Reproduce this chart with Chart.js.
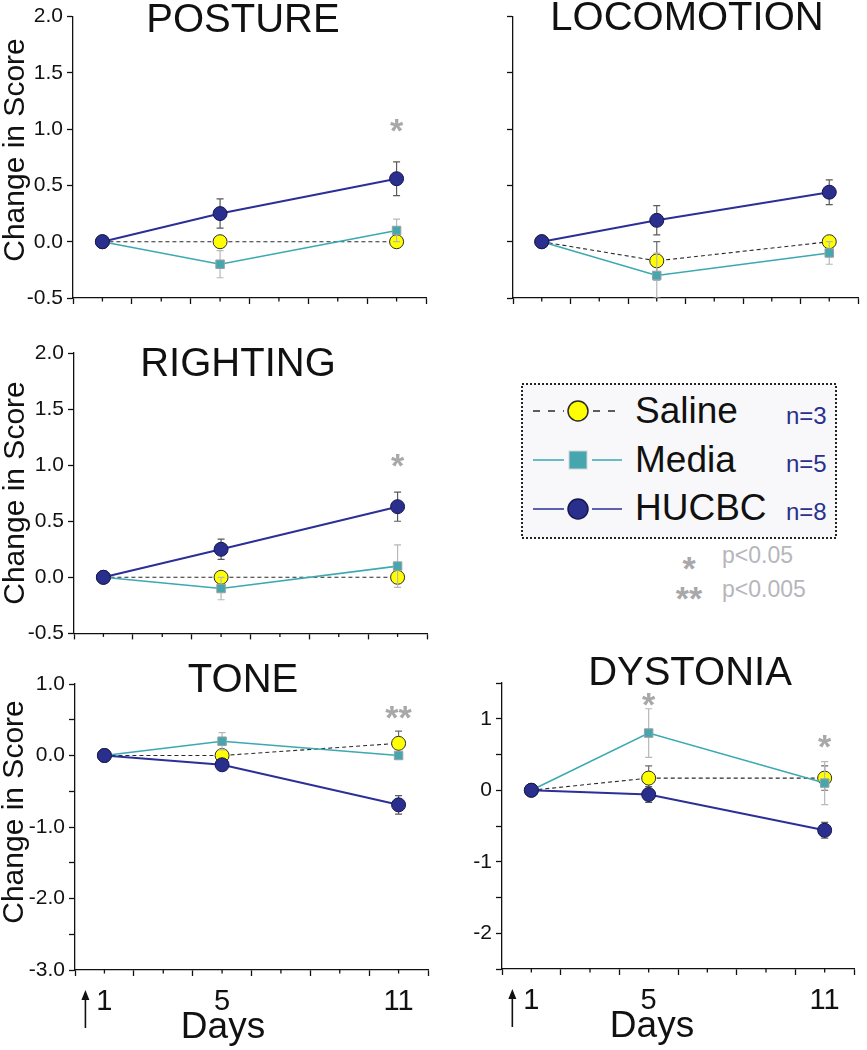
<!DOCTYPE html>
<html>
<head>
<meta charset="utf-8">
<script src="https://cdn.jsdelivr.net/npm/chart.js@4/dist/chart.umd.min.js"></script>
<style>
  html, body { margin: 0; padding: 0; background: #ffffff; }
  body { width: 867px; height: 1050px; position: relative; overflow: hidden;
         font-family: 'Liberation Sans', Arial, Helvetica, sans-serif; }
  canvas { position: absolute; }
  #legend { position: absolute; left: 500px; top: 370px; }
</style>
</head>
<body>
<svg id="legend" width="360" height="250" xmlns="http://www.w3.org/2000/svg"></svg>
<script>
// ---------------- data ----------------
const days = [1, 5, 11];
const xTickValues = [1, 5, 11];
const xTickLabels = ['1', '5', '11'];
const seriesNames = ['Saline', 'Media', 'HUCBC'];
const groupSizes = ['n=3', 'n=5', 'n=8'];
const pValueMarks = ['*', '**'];
const pValueLabels = ['p<0.05', 'p<0.005'];

// POSTURE
const postureSaline = [0, 0, 0];
const postureSalineErr = [0, 0, 0];
const postureMedia = [0, -0.2, 0.1];
const postureMediaErr = [0, 0.12, 0.1];
const postureHUCBC = [0, 0.25, 0.56];
const postureHUCBCErr = [0, 0.13, 0.15];
const postureStarDays = [11];
const postureStarY = [1.06];
const postureStarMarks = ['*'];

// LOCOMOTION
const locoSaline = [0, -0.17, 0];
const locoSalineErr = [0, 0.17, 0];
const locoMedia = [0, -0.3, -0.1];
const locoMediaErr = [0, 0.2, 0.1];
const locoHUCBC = [0, 0.19, 0.44];
const locoHUCBCErr = [0, 0.13, 0.11];
const locoStarDays = [];
const locoStarY = [];
const locoStarMarks = [];

// RIGHTING
const rightSaline = [0, 0, 0];
const rightSalineErr = [0, 0, 0];
const rightMedia = [0, -0.1, 0.1];
const rightMediaErr = [0, 0.1, 0.19];
const rightHUCBC = [0, 0.25, 0.63];
const rightHUCBCErr = [0, 0.09, 0.13];
const rightStarDays = [11];
const rightStarY = [1.07];
const rightStarMarks = ['*'];

// TONE
const toneSaline = [0, 0, 0.17];
const toneSalineErr = [0, 0, 0.17];
const toneMedia = [0, 0.2, 0];
const toneMediaErr = [0, 0.12, 0];
const toneHUCBC = [0, -0.13, -0.69];
const toneHUCBCErr = [0, 0.07, 0.13];
const toneStarDays = [11];
const toneStarY = [0.64];
const toneStarMarks = ['**'];

// DYSTONIA
const dystSaline = [0, 0.17, 0.17];
const dystSalineErr = [0, 0.17, 0.17];
const dystMedia = [0, 0.8, 0.1];
const dystMediaErr = [0, 0.34, 0.3];
const dystHUCBC = [0, -0.06, -0.56];
const dystHUCBCErr = [0, 0.11, 0.11];
const dystStarDays = [5, 11];
const dystStarY = [1.32, 0.73];
const dystStarMarks = ['*', '*'];

// ---------------- layout / styles ----------------
const FONT = "'Liberation Sans', Arial, Helvetica, sans-serif";
Chart.defaults.font.family = FONT;
Chart.defaults.color = '#111';

const fmtFixed1 = v => v.toFixed(1);
const fmtNone = () => '';
const fmtInt1 = v => Number.isInteger(v) ? v.toFixed(1) : '';
const fmtInt = v => Number.isInteger(v) ? String(v) : '';

const panels = [
  { canvas: [0, 0, 440, 318], area: [73, 13, 426, 298], title: 'POSTURE', titlePos: [243, 32],
    yMin: -0.5, yMax: 2, yStep: 0.5, yFmt: fmtFixed1, yTitle: 'Change in Score', yTitlePos: [24, 150],
    bottom: false, daysPos: null,
    s: [postureSaline, postureMedia, postureHUCBC], e: [postureSalineErr, postureMediaErr, postureHUCBCErr],
    starDays: postureStarDays, starY: postureStarY, starMarks: postureStarMarks },
  { canvas: [440, 0, 427, 318], area: [513, 13, 866, 298], title: 'LOCOMOTION', titlePos: [687, 30],
    yMin: -0.5, yMax: 2, yStep: 0.5, yFmt: fmtNone, yTitle: null, yTitlePos: null,
    bottom: false, daysPos: null,
    s: [locoSaline, locoMedia, locoHUCBC], e: [locoSalineErr, locoMediaErr, locoHUCBCErr],
    starDays: locoStarDays, starY: locoStarY, starMarks: locoStarMarks },
  { canvas: [0, 318, 440, 332], area: [74, 353, 427, 640], title: 'RIGHTING', titlePos: [238, 376],
    yMin: -0.5, yMax: 2, yStep: 0.5, yFmt: fmtFixed1, yTitle: 'Change in Score', yTitlePos: [24, 493],
    bottom: false, daysPos: null,
    s: [rightSaline, rightMedia, rightHUCBC], e: [rightSalineErr, rightMediaErr, rightHUCBCErr],
    starDays: rightStarDays, starY: rightStarY, starMarks: rightStarMarks },
  { canvas: [0, 650, 440, 400], area: [75, 684, 428, 970], title: 'TONE', titlePos: [243, 692],
    yMin: -3, yMax: 1, yStep: 0.5, yFmt: fmtInt1, yTitle: 'Change in Score', yTitlePos: [23, 812],
    bottom: true, daysPos: [223, 1038],
    s: [toneSaline, toneMedia, toneHUCBC], e: [toneSalineErr, toneMediaErr, toneHUCBCErr],
    starDays: toneStarDays, starY: toneStarY, starMarks: toneStarMarks },
  { canvas: [440, 650, 427, 400], area: [502, 683, 854, 969], title: 'DYSTONIA', titlePos: [690, 685],
    yMin: -2.5, yMax: 1.5, yStep: 0.5, yFmt: fmtInt, yTitle: null, yTitlePos: null,
    bottom: true, daysPos: [652, 1037],
    s: [dystSaline, dystMedia, dystHUCBC], e: [dystSalineErr, dystMediaErr, dystHUCBCErr],
    starDays: dystStarDays, starY: dystStarY, starMarks: dystStarMarks }
];

const seriesStyles = [
  { order: 3, borderColor: '#2a2a2a', borderWidth: 1.1, borderDash: [4, 3], pointStyle: 'circle', pointRadius: 7,
    pointBackgroundColor: '#ffff00', pointBorderColor: '#2a2a2a', pointBorderWidth: 1, errorColor: '#6a6a6a' },
  { order: 2, borderColor: '#3ba9b2', borderWidth: 1.6, borderDash: [], pointStyle: 'rect', pointRadius: 6,
    pointBackgroundColor: '#46a6ae', pointBorderColor: '#9aa0a4', pointBorderWidth: 1, errorColor: '#b8b8b8' },
  { order: 1, borderColor: '#2b2f97', borderWidth: 2, borderDash: [], pointStyle: 'circle', pointRadius: 7,
    pointBackgroundColor: '#2a2f8e', pointBorderColor: '#15184f', pointBorderWidth: 1, errorColor: '#5a5a5a' }
];

// ---------------- plugins ----------------
const errorBarPlugin = {
  id: 'errorBars',
  beforeDatasetDraw(chart, args) {
    const ds = chart.data.datasets[args.index];
    if (!ds.errors) return;
    const ys = chart.scales.y, ctx = chart.ctx, a = chart.chartArea;
    ctx.save();
    ctx.beginPath();
    ctx.rect(a.left, a.top - 1, a.right - a.left, a.bottom - a.top + 2);
    ctx.clip();
    ctx.strokeStyle = ds.errorColor;
    ctx.lineWidth = 1.2;
    args.meta.data.forEach((pt, i) => {
      const err = ds.errors[i];
      if (!err) return;
      const v = ds.data[i].y;
      const x = pt.x;
      const yt = ys.getPixelForValue(v + err), yb = ys.getPixelForValue(v - err);
      ctx.beginPath();
      ctx.moveTo(x, yt); ctx.lineTo(x, yb);
      ctx.moveTo(x - 3.5, yt); ctx.lineTo(x + 3.5, yt);
      ctx.moveTo(x - 3.5, yb); ctx.lineTo(x + 3.5, yb);
      ctx.stroke();
    });
    ctx.restore();
  }
};

function makeAnnot(p) {
  const [cx, cy] = p.canvas;
  return {
    id: 'annot',
    afterDatasetsDraw(chart) {
      const ctx = chart.ctx, xs = chart.scales.x, ys = chart.scales.y;
      ctx.save();
      ctx.fillStyle = '#a8a8aa';
      ctx.font = 'bold 34px ' + FONT;
      ctx.textAlign = 'center';
      ctx.textBaseline = 'alphabetic';
      p.starDays.forEach((d, i) => {
        ctx.fillText(p.starMarks[i], xs.getPixelForValue(d), ys.getPixelForValue(p.starY[i]) + 0.58 * 34);
      });
      ctx.restore();
    },
    afterDraw(chart) {
      const ctx = chart.ctx, xs = chart.scales.x, a = chart.chartArea;
      ctx.save();
      // minor x ticks (odd days)
      ctx.strokeStyle = '#111';
      ctx.lineWidth = 1.3;
      xs.ticks.forEach(t => {
        if (Math.abs(t.value % 2) === 1) {
          const x = xs.getPixelForValue(t.value);
          ctx.beginPath(); ctx.moveTo(x, a.bottom); ctx.lineTo(x, a.bottom + 3.5); ctx.stroke();
        }
      });
      // panel title
      ctx.fillStyle = '#111';
      ctx.font = '40px ' + FONT;
      ctx.textAlign = 'center';
      ctx.textBaseline = 'alphabetic';
      ctx.fillText(p.title, p.titlePos[0] - cx, p.titlePos[1] - cy);
      // y axis title
      if (p.yTitle) {
        ctx.save();
        ctx.translate(p.yTitlePos[0] - cx, p.yTitlePos[1] - cy);
        ctx.rotate(-Math.PI / 2);
        ctx.font = '30px ' + FONT;
        ctx.fillText(p.yTitle, 0, 0);
        ctx.restore();
      }
      if (p.bottom) {
        ctx.font = '37px ' + FONT;
        ctx.fillText('Days', p.daysPos[0] - cx, p.daysPos[1] - cy);
        // arrow at start of treatment
        const ax = xs.getPixelForValue(days[0]) - 19;
        const top = a.bottom + 20, bot = a.bottom + 58;
        ctx.strokeStyle = '#111';
        ctx.lineWidth = 1.6;
        ctx.beginPath(); ctx.moveTo(ax, bot); ctx.lineTo(ax, top + 6); ctx.stroke();
        ctx.beginPath(); ctx.moveTo(ax, top); ctx.lineTo(ax - 4, top + 10); ctx.lineTo(ax + 4, top + 10); ctx.closePath(); ctx.fill();
      }
      ctx.restore();
    }
  };
}

// ---------------- charts ----------------
function makeChart(p) {
  const [cx, cy, cw, ch] = p.canvas;
  const [L, T, R, B] = p.area;
  const cv = document.createElement('canvas');
  cv.width = cw; cv.height = ch;
  cv.style.left = cx + 'px'; cv.style.top = cy + 'px';
  cv.style.width = cw + 'px'; cv.style.height = ch + 'px';
  document.body.appendChild(cv);
  const datasets = seriesNames.map((name, k) => Object.assign({
    label: name,
    data: days.map((d, i) => ({ x: d, y: p.s[k][i] })),
    errors: p.e[k],
    fill: false,
    tension: 0
  }, seriesStyles[k]));
  new Chart(cv, {
    type: 'line',
    data: { datasets },
    options: {
      responsive: false,
      animation: false,
      devicePixelRatio: 1,
      layout: { padding: { left: 0, top: T - cy, right: cx + cw - R, bottom: 0 } },
      plugins: { legend: { display: false }, tooltip: { enabled: false }, title: { display: false } },
      scales: {
        x: {
          type: 'linear', min: 0, max: 12,
          afterFit: s => { s.height = cy + ch - B; },
          ticks: {
            stepSize: 1, autoSkip: false, maxRotation: 0, minRotation: 0, padding: 9,
            font: { size: 29 }, color: '#111',
            callback: v => {
              if (!p.bottom) return '';
              const k = xTickValues.indexOf(v);
              return k >= 0 ? xTickLabels[k] : '';
            }
          },
          grid: {
            drawOnChartArea: false, drawTicks: true, tickLength: 6, tickWidth: 1.3,
            tickColor: c => (c.tick && Math.abs(c.tick.value % 2) === 0) ? '#111' : 'rgba(0,0,0,0)'
          },
          border: { display: true, color: '#111', width: 1.3 }
        },
        y: {
          type: 'linear', min: p.yMin, max: p.yMax,
          afterFit: s => { s.width = L - cx; },
          ticks: {
            stepSize: p.yStep, autoSkip: false, padding: 4,
            font: { size: 21 }, color: '#111',
            callback: v => p.yFmt(v)
          },
          grid: { drawOnChartArea: false, drawTicks: true, tickLength: 6, tickWidth: 1.3, tickColor: '#111' },
          border: { display: true, color: '#111', width: 1.3 }
        }
      }
    },
    plugins: [errorBarPlugin, makeAnnot(p)]
  });
}
panels.forEach(makeChart);

// ---------------- legend (svg) ----------------
(function buildLegend() {
  const svg = document.getElementById('legend');
  const NS = 'http://www.w3.org/2000/svg';
  const el = (tag, attrs, text) => {
    const n = document.createElementNS(NS, tag);
    Object.keys(attrs).forEach(k => n.setAttribute(k, attrs[k]));
    if (text !== undefined) n.textContent = text;
    svg.appendChild(n);
    return n;
  };
  el('rect', { x: 22, y: 14, width: 314, height: 154, fill: '#f8f8fa', stroke: '#222', 'stroke-width': 2, 'stroke-dasharray': '2,2' });
  const rowY = [41, 90, 139];
  const baseY = [53, 102, 150];
  seriesNames.forEach((name, k) => {
    const st = seriesStyles[k];
    const y = rowY[k];
    el('line', { x1: 33, y1: y, x2: 122, y2: y, stroke: st.borderColor, 'stroke-width': k === 0 ? 1.6 : 1.5,
                 'stroke-dasharray': k === 0 ? '7,8' : 'none' });
    el('rect', { x: 78 - 14, y: y - 11, width: 28, height: 22, fill: '#f8f8fa', stroke: 'none' });
    if (st.pointStyle === 'rect') {
      el('rect', { x: 78 - 9, y: y - 9, width: 18, height: 18, fill: st.pointBackgroundColor, stroke: '#d0d4d6', 'stroke-width': 1 });
    } else {
      el('circle', { cx: 78, cy: y, r: 10, fill: st.pointBackgroundColor, stroke: st.pointBorderColor, 'stroke-width': 1.5 });
    }
    el('text', { x: 135, y: baseY[k], 'font-size': 37, fill: '#111', 'font-family': FONT }, name);
    el('text', { x: 286, y: baseY[k] + (k === 0 ? 1 : 0), 'font-size': 24, fill: '#2b2f8f', 'font-family': FONT }, groupSizes[k]);
  });
  const pStarCenterY = [190, 220];
  const pTextY = [193, 227];
  pValueMarks.forEach((m, i) => {
    el('text', { x: 189, y: pStarCenterY[i] + 20, 'font-size': 34, 'font-weight': 'bold', fill: '#a8a8aa',
                 'text-anchor': 'middle', 'font-family': FONT }, m);
    el('text', { x: 222, y: pTextY[i], 'font-size': 23, fill: '#b6b6bb', 'font-family': FONT }, pValueLabels[i]);
  });
})();
</script>
</body>
</html>
